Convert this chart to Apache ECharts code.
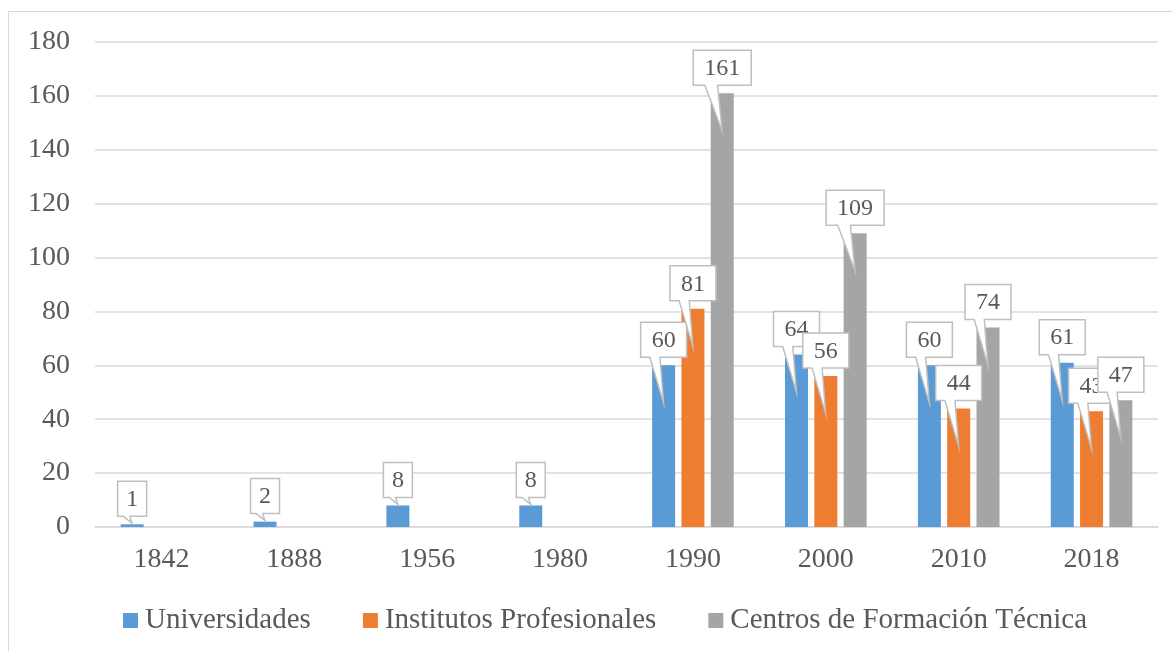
<!DOCTYPE html>
<html>
<head>
<meta charset="utf-8">
<script src="https://cdn.jsdelivr.net/npm/echarts@6/dist/echarts.min.js"></script>
<style>
	html, body { margin: 0; padding: 0; background: #fff; }
	#frame { position: absolute; left: 8px; top: 11px; width: 1300px; height: 800px; border: 1px solid #d9d9d9; }
	#chart { position: absolute; left: 0; top: 0; width: 1172px; height: 651px; }
</style>
</head>
<body>
<div id="frame"></div>
<div id="chart"></div>
<script>
var years = ["1842", "1888", "1956", "1980", "1990", "2000", "2010", "2018"];
var universidades = [1, 2, 8, 8, 60, 64, 60, 61];
var institutos = ['-', '-', '-', '-', 81, 56, 44, 43];
var centros = ['-', '-', '-', '-', 161, 109, 74, 47];
var names = ["Universidades", "Institutos Profesionales", "Centros de Formación Técnica"];
var colors = ['#5b9bd5', '#ed7d31', '#a5a5a5'];
var yTicks = { min: 0, max: 180, interval: 20 };

var barW = 23;
var gapPx = 6.3;
var serif = 'Liberation Serif';

// callout box (like the excel data callouts), drawn from the axis coords
function callout(idx) {
	return function (params, api) {
		var v = api.value(1);
		if (v === '-' || v == null || isNaN(v)) return null;
		var top = api.coord([api.value(0), v]);
		var base = api.coord([api.value(0), 0]);
		var cx = top[0] + (idx - 1) * (barW + gapPx);
		var ty = top[1];
		var txt = String(v);
		var w = [29, 46, 58][txt.length - 1];
		var h = 35;
		var bottom = ty - 8;
		var left = cx - w / 2;
		var tipY = (base[1] - ty) > 50 ? ty + 38 : ty - 1;
		var pts = [
			[left, bottom - h], [left + w, bottom - h], [left + w, bottom],
			[left + w * 0.42, bottom], [cx, tipY], [left + w * 0.2, bottom],
			[left, bottom]
		];
		return {
			type: 'group',
			children: [{
				type: 'polygon',
				shape: { points: pts },
				style: { fill: '#fff', stroke: '#bfbfbf', lineWidth: 1.5 }
			}, {
				type: 'text',
				style: {
					text: txt, x: cx, y: bottom - h / 2 + 1,
					fill: '#595959', fontSize: 24, fontFamily: serif,
					align: 'center', verticalAlign: 'middle'
				}
			}]
		};
	};
}

function pairs(arr) {
	var out = [];
	for (var i = 0; i < arr.length; i++) out.push([i, arr[i]]);
	return out;
}

var myChart = echarts.init(document.getElementById('chart'));
var option = {
	animation: false,
	textStyle: { fontFamily: serif },
	grid: { left: 95, right: 14, top: 42, bottom: 124 },
	legend: {
		data: names,
		left: 118,
		top: 601,
		icon: 'rect',
		itemWidth: 15,
		itemHeight: 15,
		itemGap: 52,
		textStyle: { fontSize: 29, fontFamily: serif, color: '#595959', padding: [0, 0, 0, 2] }
	},
	xAxis: {
		type: 'category',
		data: years,
		axisLine: { lineStyle: { color: '#d9d9d9', width: 1.5 } },
		axisTick: { show: false },
		axisLabel: { fontSize: 28, fontFamily: serif, color: '#595959', margin: 19 }
	},
	yAxis: {
		type: 'value',
		min: yTicks.min,
		max: yTicks.max,
		interval: yTicks.interval,
		axisLine: { show: false },
		axisTick: { show: false },
		axisLabel: { fontSize: 28, fontFamily: serif, color: '#595959', margin: 25 },
		splitLine: { lineStyle: { color: '#d9d9d9', width: 1.5 } }
	},
	series: [
		{ name: names[0], type: 'bar', data: universidades, barWidth: barW, barGap: (gapPx / barW * 100) + '%', itemStyle: { color: colors[0] } },
		{ name: names[1], type: 'bar', data: institutos, barWidth: barW, itemStyle: { color: colors[1] } },
		{ name: names[2], type: 'bar', data: centros, barWidth: barW, itemStyle: { color: colors[2] } },
		{ type: 'custom', renderItem: callout(0), data: pairs(universidades), z: 5 },
		{ type: 'custom', renderItem: callout(1), data: pairs(institutos), z: 5 },
		{ type: 'custom', renderItem: callout(2), data: pairs(centros), z: 5 }
	]
};
myChart.setOption(option);
</script>
</body>
</html>
